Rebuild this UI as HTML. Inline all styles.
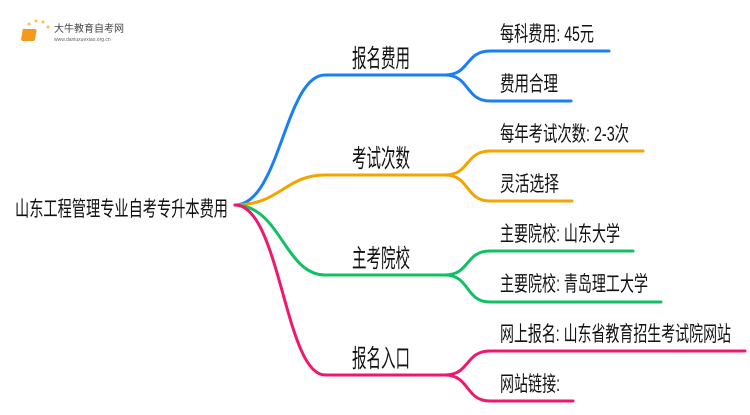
<!DOCTYPE html>
<html><head><meta charset="utf-8"><style>
html,body{margin:0;padding:0;background:#fff;}
svg text{font-family:"Liberation Sans","Noto Sans CJK SC",sans-serif;fill:#111;}
</style></head><body>
<svg width="750" height="410" viewBox="0 0 750 410" xmlns="http://www.w3.org/2000/svg">
<g fill="none" stroke-width="3" stroke-linecap="round">
<path d="M235 205 C280 205,285 75,325 75 L445 75" stroke="#1a7ff5"/>
<path d="M445 75 C470 75,465 51,490 51 L609 51 M445 75 C470 75,465 101,490 101 L571 101" stroke="#1a7ff5"/>
<path d="M235 205 C280 205,285 175,325 175 L445 175" stroke="#f2a400"/>
<path d="M445 175 C470 175,465 151,490 151 L643 151 M445 175 C470 175,465 201,490 201 L572 201" stroke="#f2a400"/>
<path d="M235 205 C280 205,285 275,325 275 L445 275" stroke="#10c063"/>
<path d="M445 275 C470 275,465 251,490 251 L633 251 M445 275 C470 275,465 302,490 302 L661 302" stroke="#10c063"/>
<path d="M235 205 C280 205,285 375,325 375 L445 375" stroke="#f0176e"/>
<path d="M445 375 C470 375,465 351,490 351 L745 351 M445 375 C470 375,465 401,490 401 L573 401" stroke="#f0176e"/>
</g>
<g lengthAdjust="spacingAndGlyphs">
<text x="15" y="216" font-size="21" textLength="213" lengthAdjust="spacingAndGlyphs">山东工程管理专业自考专升本费用</text>
<text x="352" y="67" font-size="25" textLength="58" lengthAdjust="spacingAndGlyphs">报名费用</text>
<text x="352" y="167" font-size="25" textLength="58" lengthAdjust="spacingAndGlyphs">考试次数</text>
<text x="352" y="267" font-size="25" textLength="58" lengthAdjust="spacingAndGlyphs">主考院校</text>
<text x="352" y="367" font-size="25" textLength="58" lengthAdjust="spacingAndGlyphs">报名入口</text>
<text x="500" y="41" font-size="21" textLength="94" lengthAdjust="spacingAndGlyphs">每科费用: 45元</text>
<text x="500" y="91" font-size="21" textLength="58" lengthAdjust="spacingAndGlyphs">费用合理</text>
<text x="500" y="141" font-size="21" textLength="129" lengthAdjust="spacingAndGlyphs">每年考试次数: 2-3次</text>
<text x="500" y="191" font-size="21" textLength="59" lengthAdjust="spacingAndGlyphs">灵活选择</text>
<text x="500" y="241" font-size="21" textLength="120" lengthAdjust="spacingAndGlyphs">主要院校: 山东大学</text>
<text x="500" y="291" font-size="21" textLength="148" lengthAdjust="spacingAndGlyphs">主要院校: 青岛理工大学</text>
<text x="500" y="341" font-size="21" textLength="231" lengthAdjust="spacingAndGlyphs">网上报名: 山东省教育招生考试院网站</text>
<text x="500" y="391" font-size="21" textLength="60" lengthAdjust="spacingAndGlyphs">网站链接:</text>
</g>
<g>
<circle cx="24" cy="30" r="1.5" fill="#f8c24a"/><circle cx="29" cy="24" r="1.5" fill="#f8c24a"/><circle cx="36" cy="21" r="1.5" fill="#f8c24a"/><circle cx="43" cy="22" r="1.5" fill="#f8c24a"/><circle cx="48" cy="27" r="1.5" fill="#f8c24a"/>
<rect x="28" y="29" width="14" height="12" rx="2" fill="#f39a1e" transform="skewX(-10)"/>
<text x="54" y="32" font-size="10" style="fill:#444">大牛教育自考网</text>
<text x="54" y="41" font-size="5" style="fill:#666">www.daniuxuexiao.org.cn</text>
</g>
</svg>
</body></html>
